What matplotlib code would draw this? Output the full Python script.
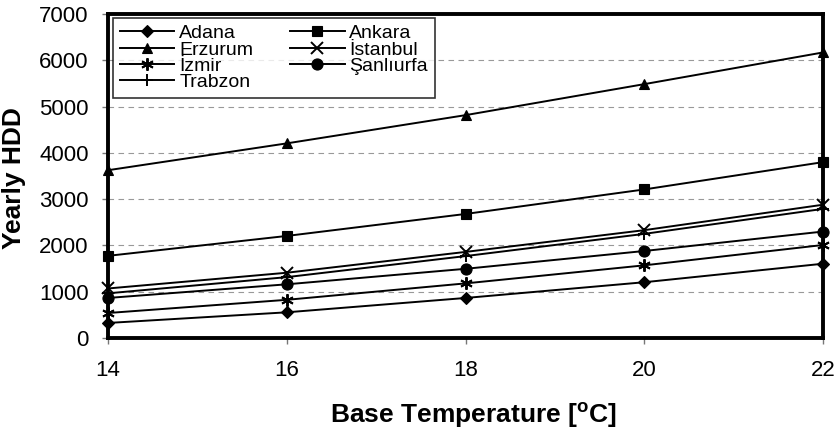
import matplotlib
matplotlib.use("Agg")
import matplotlib.pyplot as plt

plt.rcParams['font.family'] = ['Liberation Sans', 'DejaVu Sans']

base_temp = [14, 16, 18, 20, 22]
adana = [325, 555, 865, 1205, 1605]
ankara = [1775, 2205, 2680, 3210, 3800]
erzurum = [3625, 4205, 4815, 5485, 6170]
istanbul = [1070, 1410, 1860, 2330, 2880]
izmir = [540, 825, 1180, 1570, 2010]
sanliurfa = [865, 1160, 1495, 1880, 2300]
trabzon = [965, 1315, 1770, 2250, 2790]

series = [
    ("Adana", adana, "D", 6),
    ("Ankara", ankara, "s", 7),
    ("Erzurum", erzurum, "^", 7),
    ("İstanbul", istanbul, "x", 8),
    ("İzmir", izmir, (6, 2, 0), 9),
    ("Şanlıurfa", sanliurfa, "o", 8),
    ("Trabzon", trabzon, "+", 9),
]

fig = plt.figure(figsize=(8.4, 4.32), dpi=100)
ax = fig.add_axes([0.1286, 0.2176, 0.8514, 0.75])

handles = {}
for name, vals, mk, ms in series:
    h, = ax.plot(base_temp, vals, color="black", lw=1.4, marker=mk, markersize=ms,
                 markeredgewidth=1.4 if mk in ("x", "+") or isinstance(mk, tuple) else 0.8,
                 markerfacecolor="black", markeredgecolor="black", label=name,
                 clip_on=False, zorder=3)
    handles[name] = h

ax.set_xlim(14, 22)
ax.set_ylim(0, 7000)
ax.set_xticks([14, 16, 18, 20, 22])
ax.set_yticks(range(0, 7001, 1000))
ax.yaxis.grid(True, linestyle=(0, (5, 4)), color="#999999", linewidth=0.8)
ax.set_axisbelow(True)
for s in ax.spines.values():
    s.set_linewidth(2.8)
ax.tick_params(axis="both", labelsize=16, direction="out", length=4, width=1, color="#777777")
ax.tick_params(axis="x", pad=12)
ax.tick_params(axis="y", pad=10)
ax.set_ylabel("Yearly HDD", fontsize=19, fontweight="bold")
ax.yaxis.set_label_coords(-0.114, 0.494)
ax.set_xlabel("Base Temperature [$\\mathregular{^o}$C]", fontsize=19, fontweight="bold")
ax.xaxis.set_label_coords(0.511, -0.195)

order = ["Adana", "Erzurum", "İzmir", "Trabzon", "Ankara", "İstanbul", "Şanlıurfa"]
leg = ax.legend([handles[n] for n in order], order, ncol=2, loc="upper left",
                bbox_to_anchor=(0.007, 0.988), fontsize=14,
                frameon=True, fancybox=False, edgecolor="black", handlelength=2.8,
                handletextpad=0.25, columnspacing=1.9, labelspacing=-0.07,
                borderpad=0.35, borderaxespad=0.0)
leg.get_frame().set_linewidth(1.2)

fig.savefig("out.png", dpi=100, facecolor="white")
